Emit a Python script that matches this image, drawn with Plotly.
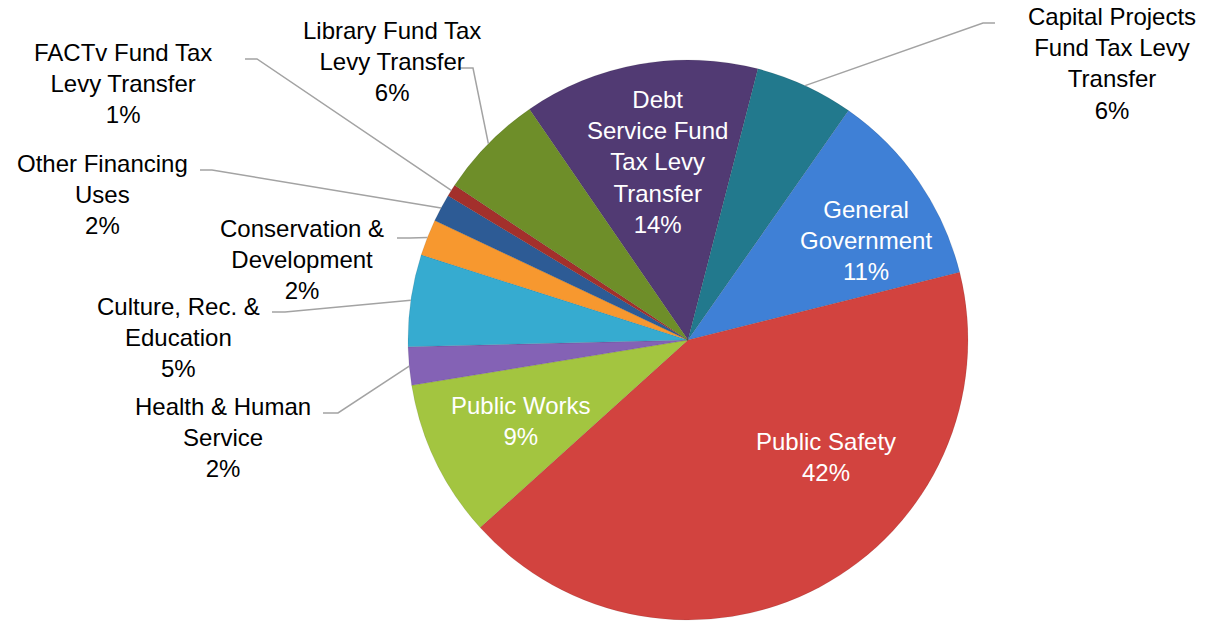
import math
import plotly.graph_objects as go

# ---- data (clockwise from the top) ----
categories = [
    "Debt Service Fund Tax Levy Transfer",
    "Capital Projects Fund Tax Levy Transfer",
    "General Government",
    "Public Safety",
    "Public Works",
    "Health & Human Service",
    "Culture, Rec. & Education",
    "Conservation & Development",
    "Other Financing Uses",
    "FACTv Fund Tax Levy Transfer",
    "Library Fund Tax Levy Transfer",
]
values = [13.6, 5.7, 11.4, 42.2, 9.1, 2.2, 5.3, 2.1, 1.6, 0.7, 6.1]
label_text = [
    "Debt<br>Service Fund<br>Tax Levy<br>Transfer",
    "Capital Projects<br>Fund Tax Levy<br>Transfer",
    "General<br>Government",
    "Public Safety",
    "Public Works",
    "Health & Human<br>Service",
    "Culture, Rec. &<br>Education",
    "Conservation &<br>Development",
    "Other Financing<br>Uses",
    "FACTv Fund Tax<br>Levy Transfer",
    "Library Fund Tax<br>Levy Transfer",
]

# ---- style ----
colors = ["#513a73", "#22798d", "#3f80d6", "#d2433f", "#a3c540", "#8462b5",
          "#36abd0", "#f7982f", "#2d5b95", "#a3302c", "#6e8e29"]
W, H = 1230, 625
CX, CY, R = 688, 340, 280
ROT = -34.5  # start angle of first slice (deg, clockwise from 12 o'clock)
FONT = "Liberation Sans, Arial, sans-serif"
FS = 24

# label placement (pixel centre), text colour, leader-line path (label side)
label_pos = [
    (657, 162, "white", None),
    (1112, 63, "black", [(995, 23), (983, 23)]),
    (866, 240, "white", None),
    (826, 457, "white", None),
    (521, 421, "white", None),
    (223, 437, "black", [(323, 413), (338, 413)]),
    (178, 337, "black", [(272, 312), (285, 312)]),
    (302, 260, "black", [(397, 238), (410, 238)]),
    (102, 194, "black", [(200, 170), (212, 170)]),
    (123, 84, "black", [(245, 59), (257, 59)]),
    (392, 61, "black", [(460, 68), (473, 68)]),
]


def px(x):
    return x / W


def py(y):
    return 1 - y / H


fig = go.Figure(go.Pie(
    labels=categories,
    values=values,
    sort=False,
    direction="clockwise",
    rotation=ROT,
    marker=dict(colors=colors, line=dict(color="rgba(0,0,0,0.15)", width=0.6)),
    textinfo="none",
    hoverinfo="label+percent",
    showlegend=False,
    domain=dict(x=[px(CX - R), px(CX + R)], y=[py(CY + R), py(CY - R)]),
))

total = sum(values)
annotations = []
shapes = []
cum = 0.0
for i, v in enumerate(values):
    mid = math.radians(ROT + 360 * (cum + v / 2) / total)
    cum += v
    pct = round(100 * v / total)
    x, y, col, lead = label_pos[i]
    annotations.append(dict(
        x=px(x), y=py(y), xref="paper", yref="paper",
        text=f"{label_text[i]}<br>{pct}%", showarrow=False,
        font=dict(family=FONT, size=FS, color=col),
        align="center", xanchor="center", yanchor="middle",
    ))
    if lead:
        ex = CX + R * math.sin(mid)
        ey = CY - R * math.cos(mid)
        pts = lead + [(ex, ey)]
        path = "M " + " L ".join(f"{px(a):.5f},{py(b):.5f}" for a, b in pts)
        shapes.append(dict(type="path", path=path, xref="paper", yref="paper",
                           line=dict(color="#a3a3a3", width=1.5)))

fig.update_layout(
    width=W, height=H,
    margin=dict(l=0, r=0, t=0, b=0),
    paper_bgcolor="white", plot_bgcolor="white",
    annotations=annotations, shapes=shapes,
)

fig.write_html("out.html",
               config={"displayModeBar": False},
               post_script="document.body.style.margin='0px';"
                           "document.body.style.overflow='hidden';")
